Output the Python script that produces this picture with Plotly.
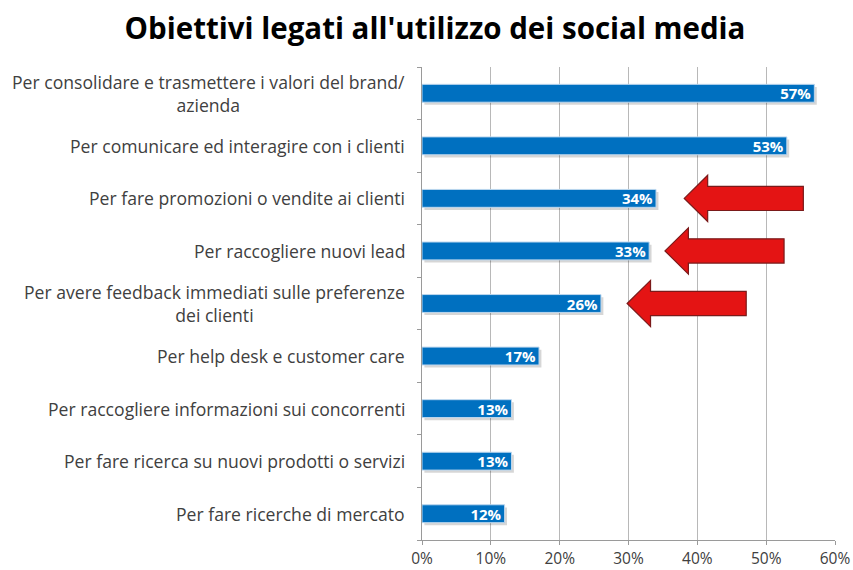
import plotly.graph_objects as go

# Survey: goals for using social media (share of respondents, %)
categories = [
    "Per consolidare e trasmettere i valori del brand/<br>azienda",
    "Per comunicare ed interagire con i clienti",
    "Per fare promozioni o vendite ai clienti",
    "Per raccogliere nuovi lead",
    "Per avere feedback immediati sulle preferenze<br>dei clienti",
    "Per help desk e customer care",
    "Per raccogliere informazioni sui concorrenti",
    "Per fare ricerca su nuovi prodotti o servizi",
    "Per fare ricerche di mercato",
]
values = [57, 53, 34, 33, 26, 17, 13, 13, 12]
x_ticks = [0, 10, 20, 30, 40, 50, 60]
x_tick_labels = ["0%", "10%", "20%", "30%", "40%", "50%", "60%"]

# Highlighted rows (index) and where each arrow tip points (%)
arrow_rows = [2, 3, 4]
arrow_tips = [38.1, 35.3, 29.8]

FONT = "Open Sans"
BLUE = "#0070C0"
positions = list(range(len(categories)))
bar_w = 0.34

fig = go.Figure()

# soft drop shadow under each bar
fig.add_trace(go.Bar(
    y=positions, x=values, orientation="h", base=0.35,
    width=bar_w, offset=-bar_w / 2 + 0.05,
    marker=dict(color="rgba(0,0,0,0.16)", line=dict(width=0)),
    hoverinfo="skip", showlegend=False,
))

fig.add_trace(go.Bar(
    y=positions, x=values, orientation="h",
    width=bar_w, offset=-bar_w / 2,
    marker=dict(color=BLUE, line=dict(color="#bdd7ee", width=1)),
    text=[f"{v}%" for v in values],
    textposition="inside", insidetextanchor="end", constraintext="none",
    textfont=dict(family=FONT, size=15, color="white", weight="bold"),
    showlegend=False,
))

# category labels, lines centred on each other
for i, label in enumerate(categories):
    fig.add_annotation(
        x=0, xref="paper", xanchor="right", xshift=-15,
        y=i, yref="y", yanchor="middle",
        text=label, align="center", showarrow=False,
        font=dict(family=FONT, size=17.6, color="#404040"),
    )

# red block arrows pointing at the highlighted bars
head_len, total_len = 3.4, 17.3
body_h, head_h = 0.23, 0.44
for row, tip in zip(arrow_rows, arrow_tips):
    hb, end = tip + head_len, tip + total_len
    path = (f"M {tip} {row} L {hb} {row - head_h} L {hb} {row - body_h} "
            f"L {end} {row - body_h} L {end} {row + body_h} "
            f"L {hb} {row + body_h} L {hb} {row + head_h} Z")
    fig.add_shape(type="path", path=path, xref="x", yref="y",
                  fillcolor="#E41414", line=dict(color="#7A1A1A", width=1.2),
                  layer="above")

fig.update_layout(
    width=853, height=570,
    margin=dict(l=422, r=18, t=67, b=30),
    paper_bgcolor="white", plot_bgcolor="white",
    barmode="overlay",
    title=dict(text="<b>Obiettivi legati all'utilizzo dei social media</b>",
               x=0.51, xref="container", xanchor="center",
               y=1 - 29 / 570, yref="container", yanchor="middle",
               font=dict(family=FONT, size=29.5, color="black")),
    xaxis=dict(range=[0, 60], tickvals=x_ticks, ticktext=x_tick_labels,
               automargin=False,
               showgrid=True, gridcolor="#b8b8b8", gridwidth=1,
               showline=True, linecolor="#9a9a9a", linewidth=1,
               ticks="outside", ticklen=4, tickcolor="#9a9a9a",
               zeroline=False,
               tickfont=dict(family=FONT, size=15.5, color="#404040")),
    yaxis=dict(range=[len(categories) - 0.5, -0.5], automargin=False,
               tickvals=[p - 0.5 for p in positions] + [len(categories) - 0.5],
               showticklabels=False, showgrid=False, zeroline=False,
               showline=True, linecolor="#9a9a9a", linewidth=1,
               ticks="outside", ticklen=4, tickcolor="#9a9a9a"),
)

fig.write_html("out.html")
